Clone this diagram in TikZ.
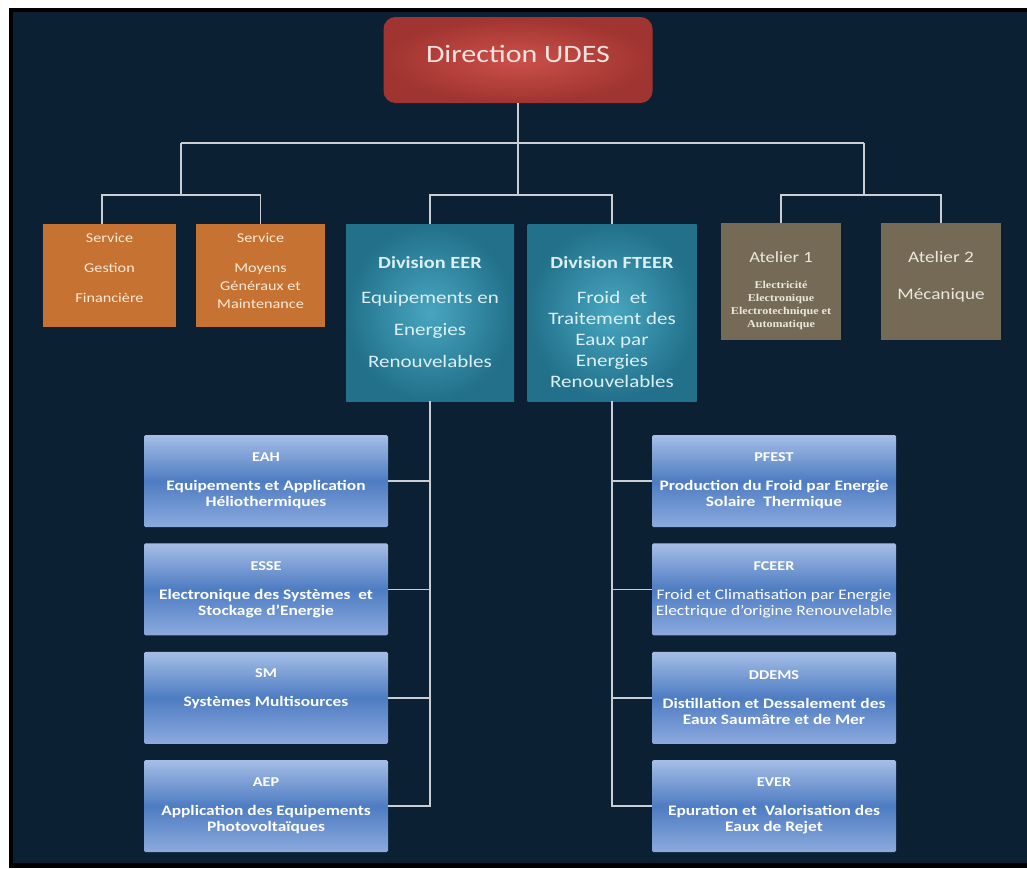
\documentclass[tikz,border=0pt]{standalone}
\usepackage{fontspec}
\setmainfont{Carlito}[FakeStretch=1.2]
\newfontfamily\timesfont{Liberation Serif}[FakeStretch=1.15]
\usetikzlibrary{positioning}
\definecolor{navybg}{RGB}{12,32,52}
\definecolor{redin}{RGB}{204,80,74}
\definecolor{redout}{RGB}{160,52,48}
\definecolor{tealin}{RGB}{72,166,192}
\definecolor{tealout}{RGB}{34,112,138}
\definecolor{orangebox}{RGB}{198,114,50}
\definecolor{ateliergray}{RGB}{117,106,86}
\definecolor{subtop}{RGB}{165,190,230}
\definecolor{submid}{RGB}{78,124,194}
\definecolor{subbot}{RGB}{140,170,222}
\definecolor{linkgray}{RGB}{200,206,212}
\definecolor{dirtext}{RGB}{246,226,222}
\definecolor{servtext}{RGB}{250,234,216}
\definecolor{attext}{RGB}{236,231,220}
\definecolor{tealtext}{RGB}{218,240,246}

\begin{document}
\begin{tikzpicture}[x=1pt, y=-1pt,
    dirbox/.style={rectangle, rounded corners=12pt, inner color=redin, outer color=redout,
                   minimum width=269pt, minimum height=86pt, text=dirtext,
                   font=\fontsize{25}{30}\selectfont},
    servbox/.style={rectangle, fill=orangebox, minimum height=103pt, inner sep=0pt,
                    align=center, text=servtext, font=\fontsize{13.5}{18}\selectfont},
    divbox/.style={rectangle, inner color=tealin, outer color=tealout, minimum width=168pt,
                   minimum height=177pt, inner sep=0pt, align=center, text=tealtext,
                   font=\fontsize{17.5}{21}\selectfont},
    atbox/.style={rectangle, fill=ateliergray, minimum width=120pt, minimum height=117pt,
                  inner sep=0pt, align=center, text=attext},
    subbox/.style={rectangle, rounded corners=1.5pt, top color=subtop, bottom color=subbot,
                   middle color=submid, minimum width=244pt, minimum height=92pt,
                   inner sep=0pt, align=center, text=white,
                   font=\bfseries\fontsize{14.5}{16}\selectfont},
    link/.style={draw=linkgray, line width=1.6pt}]

% frame
\useasboundingbox (0,0) rectangle (1027,868);
\fill[white] (0,0) rectangle (1027,868);
\fill[black] (9,8) rectangle (1027,868);
\fill[navybg] (13,12) rectangle (1027,863);

% top
\node[dirbox] (dir) at (518,60) {\raisebox{13pt}{Direction UDES}};

% services, divisions, ateliers
\node[servbox, minimum width=133pt] (sgf) at (109.5,275.5)
  {Service\\[12pt]Gestion\\[12pt]Financière\rule[-16pt]{0pt}{0pt}};
\node[servbox, minimum width=129pt] (smg) at (260.5,275.5)
  {Service\\[12pt]Moyens\\Généraux et\\Maintenance\rule[-10pt]{0pt}{0pt}};
\node[divbox] (eer) at (430,312.5)
  {\bfseries\fontsize{17}{21}\selectfont Division EER\\[14pt]Equipements en\\[11pt]Energies\\[11pt]Renouvelables};
\node[divbox, minimum width=169pt] (fteer) at (612,312.5)
  {\rule{0pt}{31pt}\bfseries\fontsize{17}{21}\selectfont Division FTEER\\[14pt]Froid\ \ et\\Traitement des\\Eaux par\\Energies\\Renouvelables};
\node[atbox, font=\timesfont\bfseries\fontsize{10.5}{13}\selectfont] (at1) at (781,281.5)
  {\rule{0pt}{30pt}\fontsize{15.5}{19}\selectfont\normalfont Atelier 1\\[13pt]Electricité\\Electronique\\Electrotechnique et\\Automatique};
\node[atbox, font=\fontsize{16}{37}\selectfont] (at2) at (941,281.5)
  {Atelier 2\\Mécanique\rule[-12pt]{0pt}{0pt}};

% teams EER
\node[subbox] (eah) at (266,481)
  {\bfseries\fontsize{13.5}{16}\selectfont EAH\\[13pt]Equipements et Application\\Héliothermiques};
\node[subbox, below=16pt of eah] (esse)
  {\bfseries\fontsize{13.5}{16}\selectfont ESSE\\[13pt]Electronique des Systèmes\ \ et\\Stockage d’Energie};
\node[subbox, below=16pt of esse] (sm)
  {\bfseries\fontsize{13.5}{16}\selectfont SM\\[13pt]Systèmes Multisources\\\strut};
\node[subbox, below=16pt of sm] (aep)
  {\bfseries\fontsize{13.5}{16}\selectfont AEP\\[13pt]Application des Equipements\\Photovoltaïques};

% teams FTEER
\node[subbox] (pfest) at (774,481)
  {\bfseries\fontsize{13.5}{16}\selectfont PFEST\\[13pt]Production du Froid par Energie\\Solaire\ \ Thermique};
\node[subbox, below=16pt of pfest, font=\fontsize{14.5}{16}\selectfont] (fceer)
  {\bfseries\fontsize{13.5}{16}\selectfont FCEER\\[13pt]Froid et Climatisation par Energie\\Electrique d’origine Renouvelable};
\node[subbox, below=16pt of fceer] (ddems)
  {\bfseries\fontsize{13.5}{16}\selectfont DDEMS\\[13pt]Distillation et Dessalement des\\Eaux Saumâtre et de Mer};
\node[subbox, below=16pt of ddems] (ever)
  {\bfseries\fontsize{13.5}{16}\selectfont EVER\\[13pt]Epuration et\ \ Valorisation des\\Eaux de Rejet};

% links
\coordinate (j0) at (518,143);
\coordinate (jl) at (181,143);
\coordinate (jr) at (864,143);
\coordinate (jl2) at (181,195);
\coordinate (jm2) at (518,195);
\coordinate (jr2) at (864,195);
\draw[link] (dir.south) -- (j0);
\draw[link] (jl) -- (jr);
\draw[link] (jl) -- (jl2);
\draw[link] ([xshift=-7.5pt]sgf.north) |- (jl2) -| (smg.north);
\draw[link] (j0) -- (jm2);
\draw[link] (eer.north) |- (jm2) -| (fteer.north);
\draw[link] (jr) -- (jr2);
\draw[link] (at1.north) |- (jr2) -| (at2.north);
\draw[link] (eer.south) |- (aep.east);
\foreach \n in {eah,esse,sm}
  \draw[link] (eer.south |- \n.east) -- (\n.east);
\draw[link] (fteer.south) |- (ever.west);
\foreach \n in {pfest,fceer,ddems}
  \draw[link] (fteer.south |- \n.west) -- (\n.west);
\end{tikzpicture}
\end{document}
